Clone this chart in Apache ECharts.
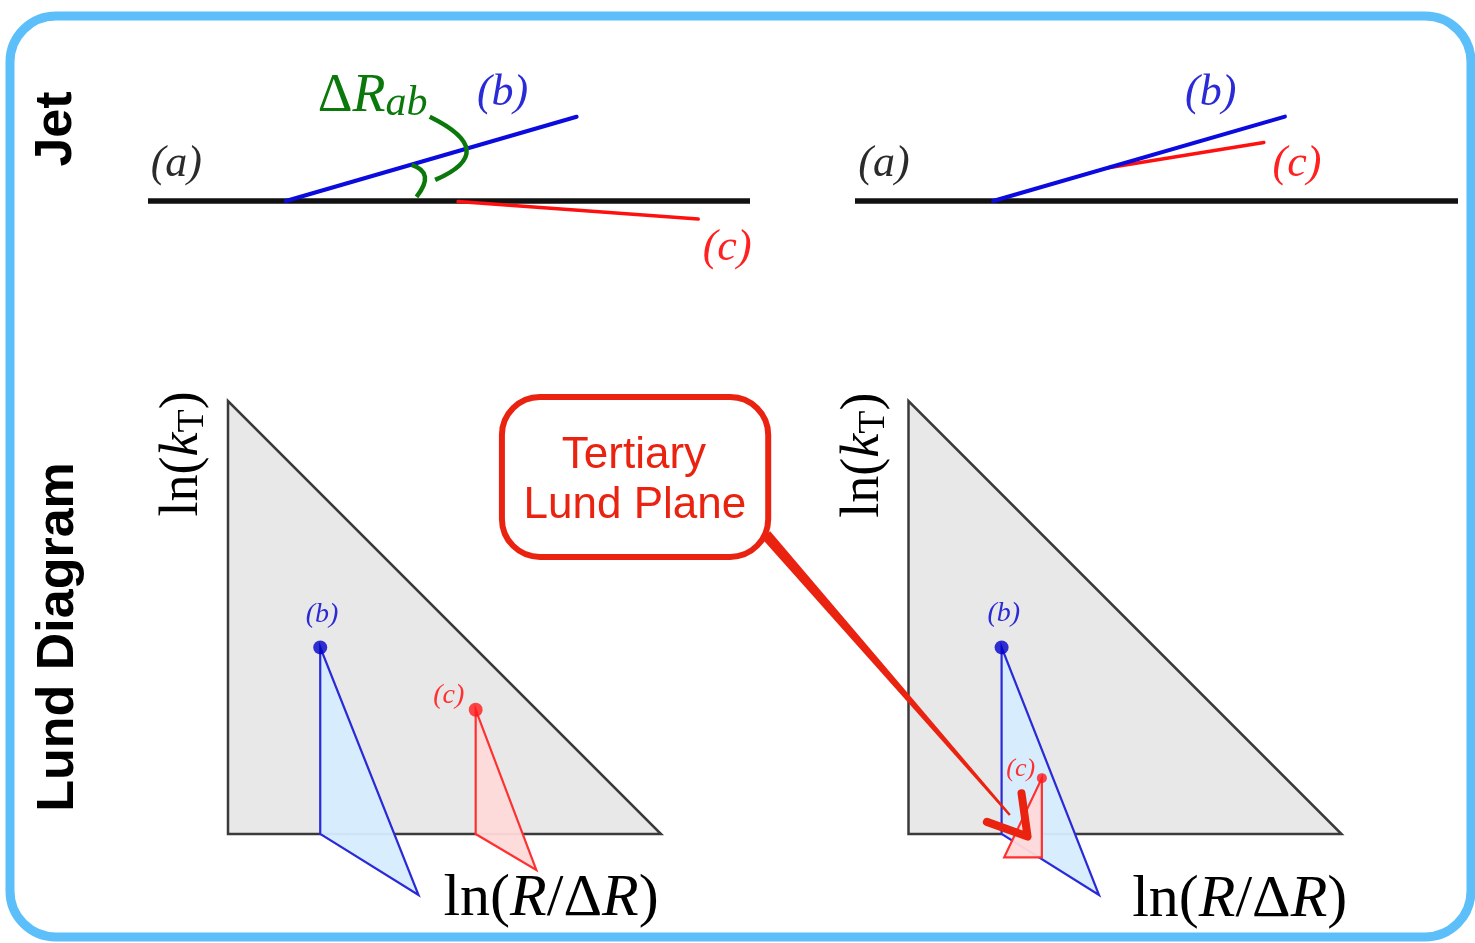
<!DOCTYPE html>
<html><head><meta charset="utf-8">
<script src="https://cdn.jsdelivr.net/npm/echarts@6/dist/echarts.min.js"></script>
<style>html,body{margin:0;padding:0;background:#fff}#c{width:1475px;height:943px}</style>
</head><body><div id="c"></div>
<script>
// ---------- Jet panels (units along the jet axis (a)) ----------
const jetAxisA = [[0, 0], [100, 0]];
const jetLeftB = [[22.9, 0], [71.2, 14.0]];
const jetLeftC = [[51.5, -0.1], [91.4, -3.0]];
const jetRightB = [[22.9, 0], [71.3, 14.0]];
const jetRightC = [[42.0, 5.5], [67.8, 9.7]];
// quadratic arcs: [start, control, end]
const arcInner = [[43.8, 6.0], [47.8, 4.7], [44.6, 0.7]];
const arcOuter = [[46.8, 14.0], [58.6, 8.2], [47.7, 3.5]];
const jetLeftLabels = [[4.7, 6.1, 'a'], [58.9, 17.8, 'b'], [96.2, -7.9, 'c']];
const jetRightLabels = [[4.8, 6.1, 'a'], [59.0, 17.8, 'b'], [73.3, 6.1, 'c']];
const deltaRLabel = [28.2, 17.3];

// ---------- Lund diagrams (ln(R/ΔR), ln(kT)) ----------
const lundPlane = [[0, 0], [0, 10], [10, 0]];
const leftB = [2.13, 4.31];
const leftBCone = [[2.13, 4.31], [2.13, 0], [4.40, -1.41]];
const leftC = [5.72, 2.87];
const leftCCone = [[5.72, 2.87], [5.72, 0], [7.12, -0.83]];
const rightB = [2.15, 4.31];
const rightBCone = [[2.15, 4.31], [2.15, 0], [4.40, -1.41]];
const rightC = [3.08, 1.29];
const rightCCone = [[3.08, 1.29], [3.08, -0.54], [2.21, -0.54]];
const leftLundLabels = [[2.17, 5.06, 'b'], [5.10, 3.19, 'c']];
const rightLundLabels = [[2.20, 5.09, 'b'], [2.59, 1.49, 'c']];
const xNamePos = [[7.46, -1.50], [7.65, -1.52]];
const yNamePos = [[-1.05, 8.78], [-1.03, 8.75]];

// ---------- Callout (in right Lund units) ----------
const calloutBox = [[-9.39, 10.09], [-3.24, 6.40]];
const calloutText = [[-6.34, 8.73, 'Tertiary'], [-6.32, 7.58, 'Lund Plane']];
const calloutArrow = [[-3.29, 6.91], [2.34, 0.44]];
const calloutHead = [[1.81, 0.28], [2.75, -0.06], [2.61, 0.94]];

const SERIF = '"Liberation Serif","Times New Roman",serif';
const SANS = '"Liberation Sans",Arial,Helvetica,sans-serif';
const BLUE = '#0b0be0', RED = '#ff1010', GREEN = '#0b780b', CALL = '#ea2210';

const grids = [
  {left: 148, top: 80.6, width: 602, height: 180.6},
  {left: 855, top: 80.4, width: 603, height: 180.9},
  {left: 141.4, top: 357.7, width: 606.2, height: 584.55},
  {left: 475.5, top: 357.7, width: 952.6, height: 584.55}
];
const xr = [[0, 100], [0, 100], [-2, 12], [-10, 12]];
const yr = [[-10, 20], [-10, 20], [-2.5, 11], [-2.5, 11]];

function seg(g, pts, color, w, cap) {
  return {type: 'line', xAxisIndex: g, yAxisIndex: g, data: pts, symbol: 'none', clip: false,
    silent: true, animation: false, z: 3, lineStyle: {color: color, width: w, cap: cap || 'round'}};
}
function custom(g, build, z) {
  return {type: 'custom', coordinateSystem: 'cartesian2d', xAxisIndex: g, yAxisIndex: g, clip: false,
    silent: true, animation: false, z: z || 2, data: [[0, 0]],
    renderItem: function (p, api) { return build(api); }};
}
function poly(g, pts, fill, stroke, lw, z) {
  return custom(g, function (api) {
    return {type: 'polygon', shape: {points: pts.map(function (q) { return api.coord(q); })},
      style: {fill: fill, stroke: stroke, lineWidth: lw, lineJoin: 'miter'}};
  }, z);
}
function bez(g, arc, color, w) {
  return custom(g, function (api) {
    const a = api.coord(arc[0]), c = api.coord(arc[1]), b = api.coord(arc[2]);
    return {type: 'bezierCurve', shape: {x1: a[0], y1: a[1], cpx1: c[0], cpy1: c[1], x2: b[0], y2: b[1]},
      style: {stroke: color, lineWidth: w, fill: null, lineCap: 'butt'}};
  }, 4);
}
function letters(g, labels, color, size) {
  return custom(g, function (api) {
    return {type: 'group', children: labels.map(function (l) {
      const c = api.coord([l[0], l[1]]);
      return {type: 'text', x: c[0], y: c[1], style: {text: '(' + l[2] + ')', fill: color,
        font: 'italic ' + size + 'px ' + SERIF, align: 'center', verticalAlign: 'middle'}};
    })};
  }, 5);
}
function dot(g, pt, color, size) {
  return {type: 'scatter', xAxisIndex: g, yAxisIndex: g, data: [pt], symbolSize: size, silent: true,
    animation: false, z: 4, itemStyle: {color: color}};
}
function axisNames(g, xp, yp) {
  return custom(g, function (api) {
    const a = api.coord(xp), b = api.coord(yp);
    const base = {fontFamily: SERIF, fontSize: 60, fill: '#000', lineHeight: 64};
    const it = Object.assign({}, base, {fontStyle: 'italic'});
    const base2 = {fontFamily: SERIF, fontSize: 54, fill: '#000', lineHeight: 58};
    const it2 = Object.assign({}, base2, {fontStyle: 'italic'});
    return {type: 'group', children: [
      {type: 'text', x: a[0], y: a[1], style: {text: '{u|ln(}{i|R}{u|/Δ}{i|R}{u|)}', align: 'center',
        verticalAlign: 'middle', rich: {u: base, i: it}}},
      {type: 'text', x: b[0], y: b[1], rotation: Math.PI / 2, style: {text: '{u|ln(}{i|k}{s|T}{u|)}',
        align: 'center', verticalAlign: 'middle',
        rich: {u: base2, i: it2, s: {fontFamily: SERIF, fontSize: 38, fill: '#000', lineHeight: 24, verticalAlign: 'bottom'}}}}
    ]};
  }, 5);
}

const series = [
  // Jet left
  seg(0, jetAxisA, '#111', 5.5, 'butt'),
  seg(0, jetLeftC, RED, 3.5),
  seg(0, jetLeftB, BLUE, 4),
  bez(0, arcInner, GREEN, 4.5),
  bez(0, arcOuter, GREEN, 4.5),
  letters(0, [jetLeftLabels[0]], '#2b2b2b', 44),
  letters(0, [jetLeftLabels[1]], '#2a2ad6', 44),
  letters(0, [jetLeftLabels[2]], '#ff2020', 44),
  custom(0, function (api) {
    const c = api.coord(deltaRLabel);
    const it = {fontFamily: SERIF, fontStyle: 'italic', fontSize: 54, lineHeight: 56, fill: GREEN};
    return {type: 'text', x: c[0], y: c[1], style: {text: '{d|Δ}{r|R}{s|ab}', align: 'left', verticalAlign: 'middle',
      rich: {d: {fontFamily: SERIF, fontSize: 54, lineHeight: 56, fill: GREEN}, r: it,
        s: {fontFamily: SERIF, fontStyle: 'italic', fontSize: 42, lineHeight: 22, verticalAlign: 'bottom', fill: GREEN}}}};
  }, 5),
  // Jet right
  seg(1, jetAxisA, '#111', 5.5, 'butt'),
  seg(1, jetRightC, RED, 3.5),
  seg(1, jetRightB, BLUE, 4),
  letters(1, [jetRightLabels[0]], '#2b2b2b', 44),
  letters(1, [jetRightLabels[1]], '#2a2ad6', 44),
  letters(1, [jetRightLabels[2]], '#ff2020', 44),
  // Lund left
  poly(2, lundPlane, '#e8e8e8', '#3a3a3a', 2.5, 1),
  poly(2, leftBCone, 'rgba(214,236,253,0.95)', '#2a2ad8', 2.2, 2),
  poly(2, leftCCone, 'rgba(255,218,218,0.95)', '#ff3030', 2.2, 2),
  dot(2, leftB, '#0000c8', 14),
  dot(2, leftC, '#ff1a1a', 14),
  letters(2, [leftLundLabels[0]], '#2a2ad6', 28),
  letters(2, [leftLundLabels[1]], '#ff3030', 28),
  axisNames(2, xNamePos[0], yNamePos[0]),
  // Lund right
  poly(3, lundPlane, '#e8e8e8', '#3a3a3a', 2.5, 1),
  poly(3, rightBCone, 'rgba(214,236,253,0.95)', '#2a2ad8', 2.2, 2),
  poly(3, rightCCone, 'rgba(255,218,218,0.95)', '#ff3030', 2.2, 2),
  dot(3, rightB, '#0000c8', 14),
  dot(3, rightC, '#ff1a1a', 10),
  letters(3, [rightLundLabels[0]], '#2a2ad6', 28),
  letters(3, [rightLundLabels[1]], '#ff3030', 26),
  axisNames(3, xNamePos[1], yNamePos[1]),
  // Callout
  custom(3, function (api) {
    const a = api.coord(calloutBox[0]), b = api.coord(calloutBox[1]);
    return {type: 'rect', shape: {x: a[0], y: a[1], width: b[0] - a[0], height: b[1] - a[1], r: 38},
      style: {fill: null, stroke: CALL, lineWidth: 6}};
  }, 6),
  custom(3, function (api) {
    return {type: 'group', children: calloutText.map(function (t) {
      const c = api.coord([t[0], t[1]]);
      return {type: 'text', x: c[0], y: c[1], style: {text: t[2], fill: CALL, font: '44px ' + SANS,
        align: 'center', verticalAlign: 'middle'}};
    })};
  }, 6),
  custom(3, function (api) {
    const a = api.coord(calloutArrow[0]), b = api.coord(calloutArrow[1]);
    const dx = b[0] - a[0], dy = b[1] - a[1], L = Math.hypot(dx, dy), nx = -dy / L, ny = dx / L;
    const w0 = 5.5, w1 = 1.2;
    return {type: 'polygon', shape: {points: [[a[0] + nx * w0, a[1] + ny * w0], [b[0] + nx * w1, b[1] + ny * w1],
      [b[0] - nx * w1, b[1] - ny * w1], [a[0] - nx * w0, a[1] - ny * w0]]}, style: {fill: CALL}};
  }, 7),
  custom(3, function (api) {
    return {type: 'polyline', shape: {points: calloutHead.map(function (q) { return api.coord(q); })},
      style: {stroke: CALL, lineWidth: 8, lineCap: 'round', lineJoin: 'round', fill: null}};
  }, 7)
];

const chart = echarts.init(document.getElementById('c'), null, {renderer: 'canvas'});
chart.setOption({
  backgroundColor: '#fff',
  animation: false,
  grid: grids.map(function (g) { return Object.assign({containLabel: false}, g); }),
  xAxis: xr.map(function (r, i) { return {type: 'value', gridIndex: i, min: r[0], max: r[1], show: false}; }),
  yAxis: yr.map(function (r, i) { return {type: 'value', gridIndex: i, min: r[0], max: r[1], show: false}; }),
  graphic: [
    {type: 'rect', z: -1, silent: true, shape: {x: 10, y: 16, width: 1461, height: 921, r: 46},
      style: {fill: null, stroke: '#5cbffa', lineWidth: 9}},
    {type: 'text', x: 57, y: 129, rotation: Math.PI / 2, silent: true,
      style: {text: 'Jet', font: 'bold 52px ' + SANS, fill: '#000', align: 'center', verticalAlign: 'middle'}},
    {type: 'text', x: 59, y: 637, rotation: Math.PI / 2, silent: true,
      style: {text: 'Lund Diagram', font: 'bold 52px ' + SANS, fill: '#000', align: 'center', verticalAlign: 'middle'}}
  ],
  series: series
});
</script>
</body></html>
